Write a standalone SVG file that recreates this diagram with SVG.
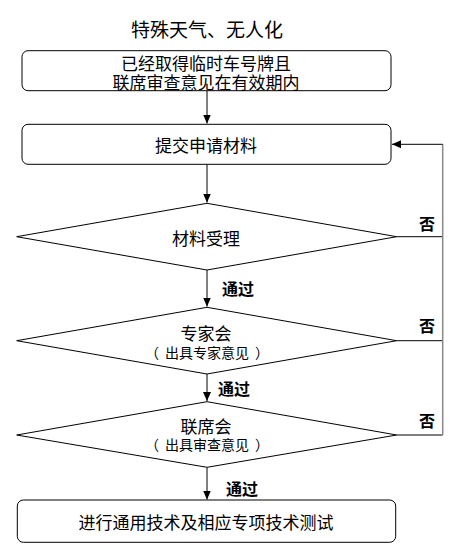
<svg xmlns="http://www.w3.org/2000/svg" width="471" height="556" viewBox="0 0 471 556">
<style>
text{font-family:"Noto Sans CJK SC","Noto Sans",sans-serif;fill:#000;text-anchor:middle;dominant-baseline:central}
.t{font-size:17px}
.s{font-size:14px}
.b{font-size:16px;font-weight:bold}
.title{font-size:19px}
.box{fill:#fff;stroke:#000;stroke-width:1}
.ln{fill:none;stroke:#000;stroke-width:1}
.gr{fill:none;stroke:#888;stroke-width:1.5}
</style>
<defs>
<marker id="ah" markerWidth="10" markerHeight="10" refX="9" refY="5" orient="auto" markerUnits="userSpaceOnUse">
<path d="M0,1 L9,5 L0,9 Z" fill="#000"/>
</marker>
</defs>
<rect width="471" height="556" fill="#fff"/>
<text class="title" x="207" y="28">特殊天气、无人化</text>
<g id="connectors">
<line class="ln" x1="207" y1="91" x2="207" y2="123.5" marker-end="url(#ah)"/>
<line class="ln" x1="207" y1="164.5" x2="207" y2="202.5" marker-end="url(#ah)"/>
<line class="ln" x1="207" y1="270" x2="207" y2="306.5" marker-end="url(#ah)"/>
<line class="ln" x1="207" y1="374" x2="207" y2="401" marker-end="url(#ah)"/>
<line class="ln" x1="207" y1="467.5" x2="207" y2="499.5" marker-end="url(#ah)"/>
<path class="ln" d="M396.7,236.7 L442.7,236.7"/>
<path class="ln" d="M396.7,340.7 L442.7,340.7"/>
<path class="ln" d="M396.7,435 L442.7,435"/>
<path class="gr" d="M442.7,435 L442.7,144.3"/>
<path class="ln" d="M442.7,144.3 L392,144.3" marker-end="url(#ah)"/>
<text class="b" x="238" y="288">通过</text>
<text class="b" x="234" y="388">通过</text>
<text class="b" x="242" y="488">通过</text>
<text class="b" x="427" y="223">否</text>
<text class="b" x="427" y="325">否</text>
<text class="b" x="427" y="420">否</text>
</g>
<g id="n1">
<rect class="box" x="22" y="50.7" width="369" height="40" rx="6"/>
<text class="t" x="206" y="62">已经取得临时车号牌且</text>
<text class="t" x="206" y="81">联席审查意见在有效期内</text>
</g>
<g id="n2">
<rect class="box" x="22" y="124.3" width="369" height="40" rx="6"/>
<text class="t" x="206" y="144.3">提交申请材料</text>
</g>
<g id="n3">
<polygon class="box" points="207,203.3 396.7,236.7 207,270 16.7,236.7"/>
<text class="t" x="206" y="237">材料受理</text>
</g>
<g id="n4">
<polygon class="box" points="207,307.3 396.7,340.7 207,374 16.7,340.7"/>
<text class="t" x="206" y="332">专家会</text>
<text class="s" y="352"><tspan x="152">（</tspan><tspan x="207">出具专家意见</tspan><tspan x="262">）</tspan></text>
</g>
<g id="n5">
<polygon class="box" points="207,401.7 396.7,435 207,467.3 16.7,435"/>
<text class="t" x="206" y="425">联席会</text>
<text class="s" y="444"><tspan x="152">（</tspan><tspan x="207">出具审查意见</tspan><tspan x="262">）</tspan></text>
</g>
<g id="n6">
<rect class="box" x="17.3" y="500" width="378.4" height="42.3" rx="6"/>
<text class="t" x="206" y="521">进行通用技术及相应专项技术测试</text>
</g>
</svg>
